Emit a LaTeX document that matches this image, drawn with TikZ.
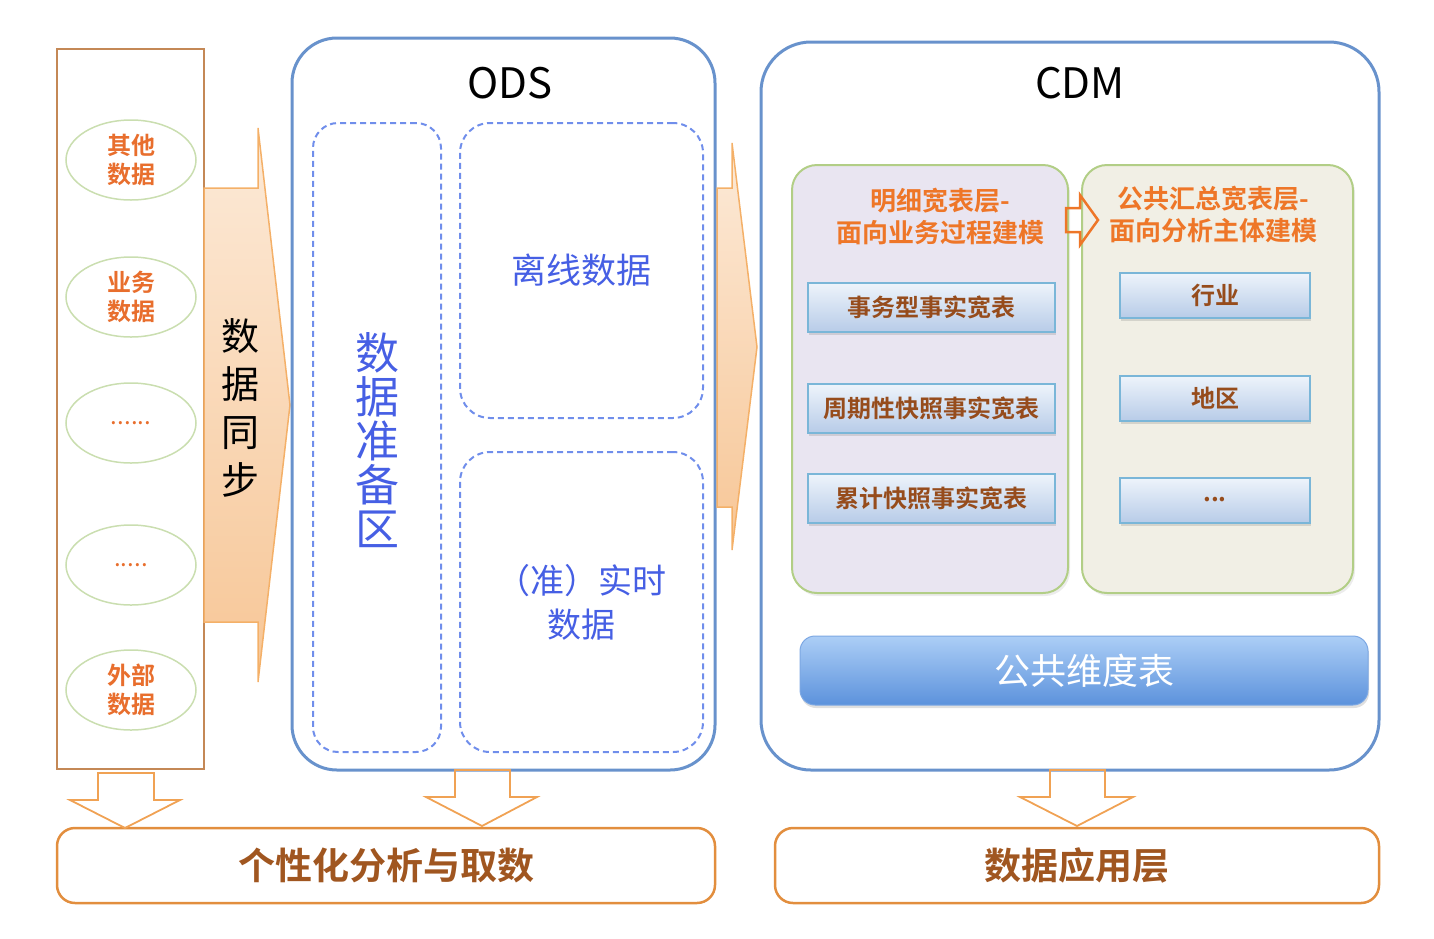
\documentclass[tikz,border=0pt]{standalone}
\usepackage{fontspec}
\setmainfont{Noto Sans CJK SC}[BoldFont=Noto Sans CJK SC Bold]
\usetikzlibrary{positioning,shapes.geometric,shadows}
\definecolor{frameBlue}{RGB}{104,146,204}
\definecolor{dashBlue}{RGB}{112,142,235}
\definecolor{textBlue}{RGB}{70,95,228}
\definecolor{srcFrame}{RGB}{196,136,86}
\definecolor{srcText}{RGB}{232,110,45}
\definecolor{ellGreen}{RGB}{202,222,176}
\definecolor{flowTop}{RGB}{252,234,216}
\definecolor{flowBot}{RGB}{247,198,150}
\definecolor{flowEdge}{RGB}{244,176,104}
\definecolor{lavPanel}{RGB}{233,229,241}
\definecolor{begPanel}{RGB}{241,239,229}
\definecolor{panelEdge}{RGB}{178,206,134}
\definecolor{titleOrange}{RGB}{238,118,40}
\definecolor{btnTop}{RGB}{238,244,251}
\definecolor{btnBot}{RGB}{184,204,232}
\definecolor{btnEdge}{RGB}{122,182,216}
\definecolor{btnText}{RGB}{150,76,28}
\definecolor{dimTop}{RGB}{172,206,246}
\definecolor{dimBot}{RGB}{92,146,220}
\definecolor{appEdge}{RGB}{226,142,62}
\definecolor{appText}{RGB}{160,86,32}
\definecolor{downEdge}{RGB}{240,162,84}

\begin{document}
\begin{tikzpicture}[x=1pt,y=-1pt,
    srcbox/.style={draw=srcFrame, line width=2.5, inner sep=0},
    srcell/.style={ellipse, draw=ellGreen, line width=1.5, minimum width=130, minimum height=80,
      inner sep=0, text=srcText, align=center, font=\fontsize{24}{29}\selectfont\bfseries},
    flow/.style={draw=flowEdge, line width=1.5, top color=flowTop, bottom color=flowBot},
    layer/.style={draw=frameBlue, line width=3, rounded corners=45, inner sep=0},
    zone/.style={draw=dashBlue, line width=2, dashed, dash pattern=on 6pt off 4pt, rounded corners=30,
      inner sep=0, text=textBlue, align=center},
    panel/.style={draw=panelEdge, line width=2, rounded corners=25, inner sep=0,
      drop shadow={opacity=0.15, shadow xshift=2pt, shadow yshift=-3pt}},
    ptitle/.style={text=titleOrange, align=center, font=\fontsize{26}{32}\selectfont\bfseries},
    btn/.style={draw=btnEdge, line width=2, top color=btnTop, bottom color=btnBot, inner sep=0,
      text=btnText, font=\fontsize{24}{28}\selectfont\bfseries,
      drop shadow={opacity=0.25, shadow xshift=1pt, shadow yshift=-3pt}},
    appbox/.style={draw=appEdge, line width=2.5, rounded corners=18, inner sep=0,
      text=appText, font=\fontsize{37}{44}\selectfont\bfseries},
    down/.style={draw=downEdge, line width=1.8, line join=miter}]
  \useasboundingbox (0,0) rectangle (1434,938);

  % sources
  \node[srcbox, minimum width=147, minimum height=720] (src) at (130.5,409) {};
  \foreach \y/\t [count=\i] in {160/{其他\\数据},297/{业务\\数据},423/{\mdseries......},565/{\mdseries.....},690/{外部\\数据}}
    \node[srcell] (e\i) at (131,\y) {\t};

  \draw[flow] (204,188) -- (258,188) -- (258,128) -- (290,405) -- (258,682) -- (258,622) -- (204,622) -- cycle;
  \node[align=center, font=\fontsize{38}{48}\selectfont] (sync) at (240,408) {数\\据\\同\\步};

  % ODS
  \node[layer, minimum width=423, minimum height=732] (ods) at (503.5,404) {};
  \node[font=\fontsize{42}{48}\selectfont] (odsT) at (510,83) {ODS};
  \node[zone, rounded corners=25, minimum width=128, minimum height=629] (prep) at (377,437.5) {};
  \node[text=textBlue, align=center, font=\fontsize{44}{44}\selectfont] (prepT) at (377,440) {数\\据\\准\\备\\区};
  \node[zone, minimum width=243, minimum height=295, font=\fontsize{35}{44}\selectfont] (offl) at (581.5,270.5) {离线数据};
  \node[zone, minimum width=243, minimum height=300, font=\fontsize{34}{44}\selectfont] (rt) at (581.5,602) {（准）实时\\数据};

  \draw[flow] (717,188) -- (732,188) -- (732,143) -- (757,347) -- (732,550) -- (732,507) -- (717,507) -- cycle;

  % CDM
  \node[layer, rounded corners=50, minimum width=618, minimum height=728] (cdm) at (1070,406) {};
  \node[font=\fontsize{42}{48}\selectfont] (cdmT) at (1080,83) {CDM};
  \node[panel, fill=lavPanel, minimum width=276, minimum height=428] (fact) at (930,379) {};
  \node[panel, fill=begPanel, minimum width=271, minimum height=428] (summ) at (1217.5,379) {};
  \node[ptitle] (factT) at (940,216) {明细宽表层-\\面向业务过程建模};
  \node[ptitle] (summT) at (1213,214) {公共汇总宽表层-\\面向分析主体建模};
  \draw[down, draw=titleOrange, line width=2.5] (1066,208) -- (1080,208) -- (1080,195) -- (1098,220) -- (1080,245) -- (1080,232) -- (1066,232) -- cycle;

  \node[btn, minimum width=247, minimum height=49] (f1) at (931.5,307) {事务型事实宽表};
  \node[btn, minimum width=247, minimum height=49] (f2) at (931.5,408) {周期性快照事实宽表};
  \node[btn, minimum width=247, minimum height=49] (f3) at (931.5,498) {累计快照事实宽表};
  \node[btn, minimum width=190, minimum height=45] (s1) at (1215,295) {行业};
  \node[btn, minimum width=190, minimum height=45] (s2) at (1215,398) {地区};
  \node[btn, minimum width=190, minimum height=45] (s3) at (1215,500) {...};

  \node[rounded corners=15, top color=dimTop, bottom color=dimBot, draw=dimBot!80!white, line width=1,
    minimum width=568, minimum height=69, inner sep=0, text=white, font=\fontsize{36}{40}\selectfont,
    drop shadow={opacity=0.25, shadow xshift=1pt, shadow yshift=-3pt}] (dim) at (1084,670.5) {公共维度表};

  % application
  \node[appbox, minimum width=658, minimum height=75] (adhoc) at (386,865.5) {个性化分析与取数};
  \node[appbox, minimum width=604, minimum height=75] (app) at (1077,865.5) {数据应用层};

  \draw[down] (98,773) -- (154,773) -- (154,800) -- (180,800) -- (125,828) -- (70,800) -- (98,800) -- cycle;
  \draw[down] (455,770) -- (510,770) -- (510,797) -- (537,797) -- (482,826) -- (426,797) -- (455,797) -- cycle;
  \draw[down] (1050,770) -- (1105,770) -- (1105,797) -- (1133,797) -- (1077,826) -- (1020,797) -- (1050,797) -- cycle;
\end{tikzpicture}
\end{document}
